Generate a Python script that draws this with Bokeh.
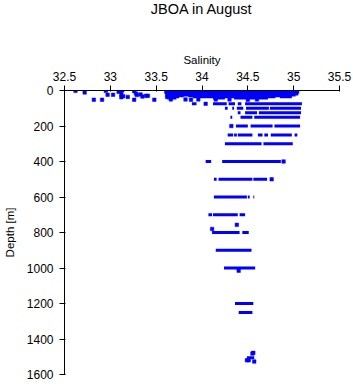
from bokeh.plotting import figure
from bokeh.models import Range1d, FixedTicker, CustomJSTickFormatter, ColumnDataSource
from bokeh.embed import file_html
from bokeh.resources import INLINE

# Densely sampled runs at a given depth: depth [m], salinity start, salinity end
run_depth = [0, 5, 10, 15, 20, 25, 30, 30, 35, 35, 35, 42, 42, 42,
             75, 75, 75, 75, 75,
             100, 100, 100, 100, 100,
             125, 125, 125,
             150, 150, 150,
             200, 200, 200,
             250, 250, 250, 250, 250, 250, 250,
             300, 300,
             400, 400,
             500, 500, 500,
             600, 600, 600,
             700, 700, 700,
             800, 800,
             900,
             1000,
             1200,
             1250,
             1505]
run_sal_min = [33.60, 33.62, 33.60, 33.62, 33.60, 33.63, 33.60, 33.85, 33.62, 33.90, 34.85, 33.62, 34.12, 34.35,
               33.89, 34.12, 34.29, 34.39, 34.47,
               34.25, 34.33, 34.38, 34.48, 34.74,
               34.39, 34.47, 34.62,
               34.31, 34.42, 34.57,
               34.37, 34.53, 34.79,
               34.28, 34.35, 34.39, 34.61, 34.68, 34.75, 35.01,
               34.25, 34.67,
               34.04, 34.22,
               34.13, 34.18, 34.56,
               34.13, 34.50, 34.56,
               34.07, 34.12, 34.41,
               34.11, 34.44,
               34.15,
               34.24,
               34.36,
               34.40,
               34.49]
run_sal_max = [35.06, 35.05, 35.06, 35.04, 35.05, 35.02, 33.80, 34.95, 33.75, 34.80, 34.98, 33.72, 34.25, 34.72,
               33.94, 34.27, 34.36, 34.43, 35.09,
               34.28, 34.35, 34.45, 34.73, 35.08,
               34.42, 34.60, 35.08,
               34.33, 34.55, 35.07,
               34.50, 34.77, 35.07,
               34.34, 34.38, 34.55, 34.66, 34.72, 34.98, 35.04,
               34.65, 34.99,
               34.10, 34.86,
               34.16, 34.55, 34.71,
               34.49, 34.52, 34.57,
               34.11, 34.39, 34.47,
               34.41, 34.51,
               34.54,
               34.58,
               34.56,
               34.55,
               34.57]

# Isolated samples: salinity, depth [m]
pt_sal = [32.62, 32.72, 32.82, 32.91, 32.95, 32.97, 33.03, 33.09, 33.11, 33.13, 33.12, 33.14, 33.12,
          33.19, 33.26, 33.28, 33.29, 33.26, 33.33, 33.35, 33.39, 33.41, 33.48, 33.61, 33.62,
          33.66, 33.82, 33.88, 33.96, 34.15, 34.30, 34.50, 34.60,
          34.04, 34.32, 34.89, 34.76, 34.38, 34.11, 34.40,
          34.55, 34.56, 34.49, 34.51, 34.57]
pt_depth = [2, 11, 52, 52, 2, 24, 24, 7, 4, 0, 23, 32, 38,
            36, 4, 17, 26, 52, 22, 34, 30, 30, 52, 7, 36,
            50, 50, 52, 50, 50, 50, 52, 50,
            75, 200, 400, 500, 757, 780, 1015,
            1482, 1478, 1520, 1520, 1527]

x_ticks = [32.5, 33, 33.5, 34, 34.5, 35, 35.5]
y_ticks = [0, 200, 400, 600, 800, 1000, 1200, 1400, 1600]

BLUE = "#0000ff"
FONT = "Liberation Sans"

p = figure(width=353, height=384, output_backend="svg", toolbar_location=None,
           x_range=Range1d(32.5, 35.5), y_range=Range1d(1600, 0),
           x_axis_location="above",
           min_border_left=52, min_border_right=14, min_border_bottom=10, min_border_top=0)

p.title.text = "JBOA in August"
p.title.align = "center"
p.title.vertical_align = "top"
p.title.text_font = FONT
p.title.text_font_size = "14.5px"
p.title.text_font_style = "normal"
p.title.text_color = "black"
p.title.standoff = 0
p.title.padding = dict(left=0, right=0, top=0, bottom=32)

runs = ColumnDataSource(dict(d=run_depth, s0=run_sal_min, s1=run_sal_max))
p.segment(x0="s0", y0="d", x1="s1", y1="d", source=runs,
          line_color=BLUE, line_width=3, line_cap="butt")
pts = ColumnDataSource(dict(s=pt_sal, d=pt_depth))
p.scatter(x="s", y="d", source=pts, marker="square", size=3.5,
          fill_color=BLUE, line_color=BLUE, line_width=0.5)

p.xgrid.visible = False
p.ygrid.visible = False
p.outline_line_color = None

p.xaxis.ticker = FixedTicker(ticks=x_ticks)
p.yaxis.ticker = FixedTicker(ticks=y_ticks)
p.xaxis.formatter = CustomJSTickFormatter(code="return String(tick);")
p.yaxis.formatter = CustomJSTickFormatter(code="return String(tick);")
p.xaxis.axis_label = "Salinity"
p.yaxis.axis_label = "Depth [m]"

for ax in (p.xaxis[0], p.yaxis[0]):
    ax.axis_line_color = "black"
    ax.major_tick_line_color = "black"
    ax.major_tick_out = 5
    ax.major_tick_in = 1
    ax.minor_tick_line_color = None
    ax.major_label_text_font = FONT
    ax.major_label_text_font_size = "12px"
    ax.major_label_text_color = "black"
    ax.axis_label_text_font = FONT
    ax.axis_label_text_font_size = "11.5px"
    ax.axis_label_text_font_style = "normal"
    ax.axis_label_text_color = "black"

p.xaxis.major_label_standoff = 5
p.xaxis.axis_label_standoff = 3
p.yaxis.major_label_standoff = 6
p.yaxis.axis_label_standoff = 8

open("out.html", "w").write(file_html(p, INLINE))
